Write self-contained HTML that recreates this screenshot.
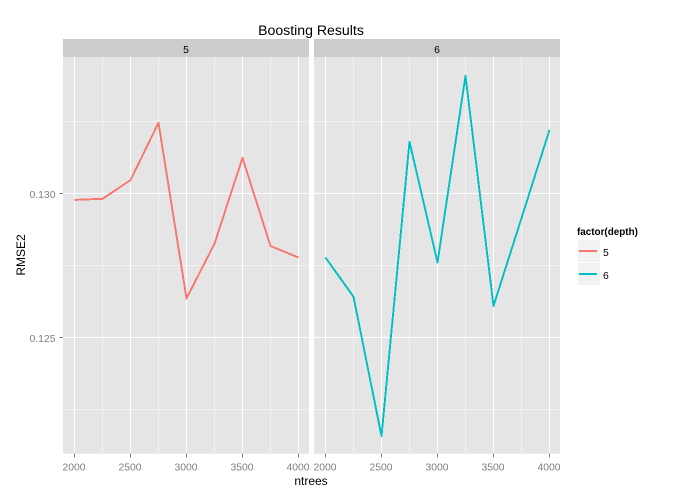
<!DOCTYPE html>
<html>
<head>
<meta charset="utf-8">
<title>Boosting Results</title>
<style>
html,body{margin:0;padding:0;background:#fff;}
body{width:674px;height:499px;overflow:hidden;}
svg{display:block;font-family:"Liberation Sans",Arial,sans-serif;}
line,polyline{shape-rendering:crispEdges;}
</style>
</head>
<body>
<svg id="chart" width="674" height="499" viewBox="0 0 674 499" xmlns="http://www.w3.org/2000/svg">
<rect x="0" y="0" width="674" height="499" fill="#ffffff"/>
<text x="311" y="35" font-size="14.1" text-anchor="middle" fill="#000">Boosting Results</text>
<text x="311" y="485" font-size="12" text-anchor="middle" fill="#000">ntrees</text>
<text transform="translate(25,255) rotate(-90)" font-size="12" text-anchor="middle" fill="#000">RMSE2</text>
<text x="577" y="235" font-size="9.9" font-weight="bold" fill="#000">factor(depth)</text>
<g id="panels"></g>
<g id="legend"></g>
</svg>
<script>
var ntrees = [2000, 2250, 2500, 2750, 3000, 3250, 3500, 3750, 4000];
var rmseDepth5 = [0.12977, 0.12981, 0.13046, 0.13245, 0.12635, 0.12825, 0.13123, 0.12817, 0.12777];
var rmseDepth6 = [0.12777, 0.12641, 0.12157, 0.13179, 0.12760, 0.13408, 0.12609, 0.12914, 0.13220];
var depthLabels = ['5', '6'];
var seriesColors = ['#F8766D', '#00BFC4'];
var xMajorTicks = [2000, 2500, 3000, 3500, 4000];
var xMinorTicks = [2250, 2750, 3250, 3750];
var yMajorTicks = [0.125, 0.130];
var yTickLabels = ['0.125', '0.130'];
var yMinorTicks = [0.1225, 0.1275, 0.1325];

var NS = 'http://www.w3.org/2000/svg';
var panelTop = 57, panelBottom = 453.7, stripTop = 39, panelWidth = 246;
var panelLefts = [63, 314];

function make(parent, tag, attrs, text) {
  var el = document.createElementNS(NS, tag);
  for (var k in attrs) el.setAttribute(k, attrs[k]);
  if (text !== undefined) el.textContent = text;
  parent.appendChild(el);
  return el;
}
function xScale(v, left) { return left + 11.5 + (v - 2000) * 224 / 2000; }
function yScale(v) { return 193.3 + (0.130 - v) * 28800; }

var panelsG = document.getElementById('panels');
var allSeries = [rmseDepth5, rmseDepth6];

allSeries.forEach(function (values, p) {
  var left = panelLefts[p];
  var g = make(panelsG, 'g', {});
  
  

  var strip = make(g, 'rect', {x: left, y: stripTop, width: panelWidth, height: panelTop - stripTop, fill: '#cccccc'});
  
  

  var stripLabel = make(g, 'text', {x: left + panelWidth / 2, y: 53, 'font-size': 10.4, 'text-anchor': 'middle', fill: '#000'}, depthLabels[p]);
  
  

  var bg = make(g, 'rect', {x: left, y: panelTop, width: panelWidth, height: panelBottom - panelTop, fill: '#e5e5e5'});
  
  

  yMinorTicks.forEach(function (t) {
    var y = yScale(t);
    var line = make(g, 'line', {x1: left, x2: left + panelWidth, y1: y, y2: y, stroke: '#f2f2f2', 'stroke-width': 1});
    
    
  });
  xMinorTicks.forEach(function (t) {
    var x = xScale(t, left);
    var line = make(g, 'line', {x1: x, x2: x, y1: panelTop, y2: panelBottom, stroke: '#f2f2f2', 'stroke-width': 1});
    
    
  });
  yMajorTicks.forEach(function (t) {
    var y = yScale(t);
    var line = make(g, 'line', {x1: left, x2: left + panelWidth, y1: y, y2: y, stroke: '#ffffff', 'stroke-width': 1});
    
    
  });
  xMajorTicks.forEach(function (t) {
    var x = xScale(t, left);
    var line = make(g, 'line', {x1: x, x2: x, y1: panelTop, y2: panelBottom, stroke: '#ffffff', 'stroke-width': 1});
    
    

    var tick = make(g, 'line', {x1: x, x2: x, y1: panelBottom, y2: panelBottom + 3.6, stroke: '#7f7f7f', 'stroke-width': 1});
    
    

    var label = make(g, 'text', {x: x - 0.5, y: 470.5, 'font-size': 10.4, 'text-anchor': 'middle', fill: '#7f7f7f'}, String(t));
    
    
  });

  var points = values.map(function (v, i) {
    return xScale(ntrees[i], left).toFixed(1) + ',' + yScale(v).toFixed(1);
  }).join(' ');
  var series = make(g, 'polyline', {points: points, fill: 'none', stroke: seriesColors[p], 'stroke-width': 1.9, 'stroke-linejoin': 'round'});
  
  
});

yMajorTicks.forEach(function (t, i) {
  var y = yScale(t);
  var tick = make(panelsG, 'line', {x1: 59.4, x2: 63, y1: y, y2: y, stroke: '#7f7f7f', 'stroke-width': 1});
  
  

  var label = make(panelsG, 'text', {x: 55.5, y: y + 4.5, 'font-size': 10.4, 'text-anchor': 'end', fill: '#7f7f7f'}, yTickLabels[i]);
  
  
});

var legendG = document.getElementById('legend');
depthLabels.forEach(function (d, i) {
  var top = 240 + i * 23;
  var g = make(legendG, 'g', {});
  
  

  var key = make(g, 'rect', {x: 578, y: top, width: 22, height: 22, fill: '#f2f2f2'});
  
  

  var line = make(g, 'line', {x1: 579, x2: 597, y1: top + 11, y2: top + 11, stroke: seriesColors[i], 'stroke-width': 2});
  
  

  var label = make(g, 'text', {x: 603, y: top + 16, 'font-size': 10.4, fill: '#000'}, d);
  
  
});
</script>
</body>
</html>
